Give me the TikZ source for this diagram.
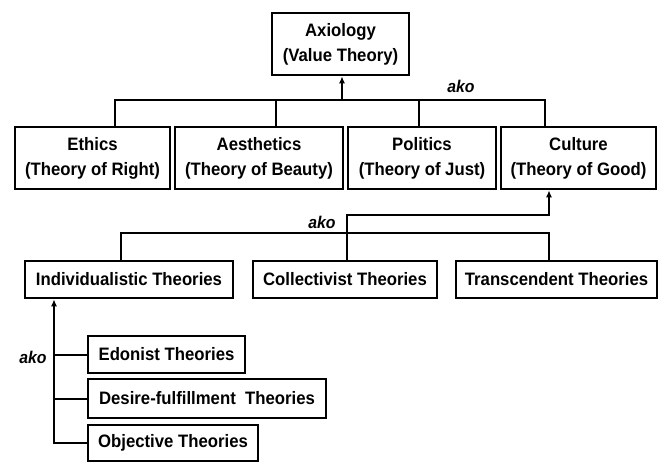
\documentclass[tikz,border=0pt]{standalone}
\usepackage{fontspec}
\setmainfont[FakeStretch=0.93]{Liberation Sans}
\usetikzlibrary{positioning,arrows.meta}
\definecolor{inkblack}{RGB}{0,0,0}
\tikzset{
  box/.style={draw=inkblack,line width=2.6pt,inner sep=0pt,align=center,
    font=\fontsize{18}{25}\selectfont\bfseries},
  wire/.style={draw=inkblack,line width=2pt},
  arr/.style={wire,-{Latex[length=7pt,width=6pt]}},
  akolabel/.style={font=\fontsize{17}{18}\selectfont\bfseries\itshape}
}

\begin{document}
\begin{tikzpicture}[x=1pt,y=-1pt]
        \useasboundingbox (0,0) rectangle (661,462);
        \node[box,minimum width=137pt,minimum height=62pt] (axio) at (340.5,44)
          {Axiology\\(Value Theory)};
        \node[box,minimum width=155pt,minimum height=62pt] (ethics) at (92.5,158)
          {Ethics\\(Theory of Right)};
        \node[box,minimum width=168pt,minimum height=62pt] (aesth) at (259,158)
          {Aesthetics\\(Theory of Beauty)};
        \node[box,minimum width=148pt,minimum height=62pt] (politics) at (422,158)
          {Politics\\(Theory of Just)};
        \node[box,minimum width=155pt,minimum height=62pt] (culture) at (578.5,158)
          {Culture\\(Theory of Good)};
        \node[box,minimum width=208pt,minimum height=37pt] (individ) at (129,279.5)
          {Individualistic Theories};
        \node[box,minimum width=184pt,minimum height=37pt] (collect) at (345,279.5)
          {Collectivist Theories};
        \node[box,minimum width=201pt,minimum height=37pt] (transc) at (556.5,279.5)
          {Transcendent Theories};
        \node[box,minimum width=157pt,minimum height=37pt] (edon) at (166.5,354.5)
          {Edonist Theories};
        \node[box,minimum width=238pt,minimum height=39pt] (desire) at (207,398.5)
          {Desire-fulfillment\ \ Theories};
        \node[box,minimum width=170pt,minimum height=36pt] (object) at (173,443)
          {Objective Theories};

        \coordinate (top1) at (115,100);
        \coordinate (top2) at (276,100);
        \coordinate (top3) at (419,100);
        \coordinate (top4) at (545,100);
        \coordinate (topup) at (342,100);
        \draw[wire] (top1 |- ethics.north) -- (top1) -- (top4) -- (top4 |- culture.north);
        \draw[wire] (top2) -- (top2 |- aesth.north);
        \draw[wire] (top3) -- (top3 |- politics.north);
        \draw[arr] (topup) -- (topup |- axio.south);
        \node[akolabel] (ako1) at (461,86) {ako};

        \coordinate (bus1) at (121,233);
        \coordinate (bus2) at (549,233);
        \coordinate (up1) at (347,215);
        \coordinate (up2) at (549,215);
        \draw[wire] (bus1 |- individ.north) -- (bus1) -- (bus2) -- (bus2 |- transc.north);
        \draw[arr] (up1 |- collect.north) -- (up1) -- (up2) -- (up2 |- culture.south);
        \node[akolabel] (ako2) at (322,222) {ako};

        \coordinate (side) at (54,446);
        \draw[arr] (object.west) -- (side |- object.west) -- (side |- individ.south);
        \draw[wire] (side |- edon.west) -- (edon.west);
        \draw[wire] (side |- desire.west) -- (desire.west);
        \node[akolabel] (ako3) at (33,357) {ako};
\end{tikzpicture}
\end{document}
